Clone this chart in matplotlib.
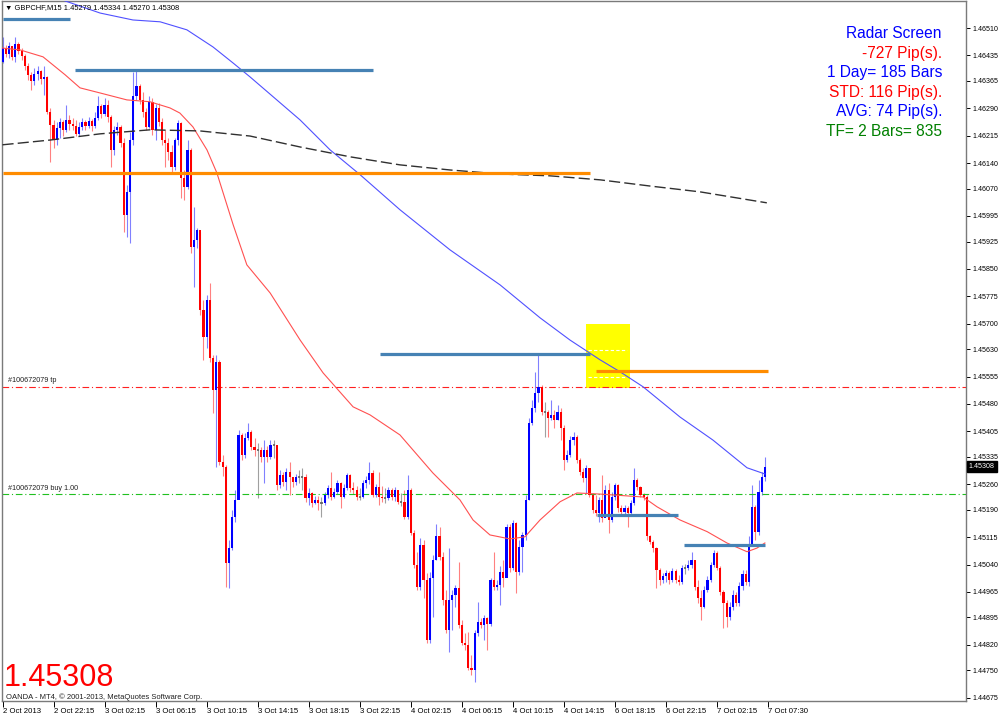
import matplotlib
matplotlib.use("Agg")
import matplotlib.pyplot as plt
import matplotlib.transforms as mtransforms
from matplotlib.patches import Rectangle
import numpy as np

# ---- price data (GBPCHF M15) ----
first_open = 1.46417
closes = [
    1.46455, 1.46439, 1.46461, 1.46431, 1.46466, 1.46447, 1.46434, 1.46406, 1.46382, 1.46365,
    1.46384, 1.46392, 1.46371, 1.46376, 1.46280, 1.46244, 1.46203, 1.46236, 1.46253, 1.46231,
    1.46258, 1.46247, 1.46242, 1.46220, 1.46239, 1.46253, 1.46242, 1.46255, 1.46242, 1.46264,
    1.46297, 1.46275, 1.46299, 1.46266, 1.46176, 1.46231, 1.46239, 1.46195, 1.45998, 1.46061,
    1.46203, 1.46324, 1.46351, 1.46313, 1.46280, 1.46239, 1.46308, 1.46231, 1.46291, 1.46253,
    1.46203, 1.46195, 1.46171, 1.46129, 1.46203, 1.46250, 1.46099, 1.46075, 1.46176, 1.45910,
    1.45929, 1.45957, 1.45738, 1.45664, 1.45765, 1.45606, 1.45518, 1.45595, 1.45321, 1.45308,
    1.45044, 1.45085, 1.45170, 1.45217, 1.45395, 1.45340, 1.45387, 1.45403, 1.45362, 1.45354,
    1.45354, 1.45335, 1.45354, 1.45335, 1.45368, 1.45368, 1.45258, 1.45286, 1.45266, 1.45294,
    1.45281, 1.45266, 1.45281, 1.45281, 1.45281, 1.45222, 1.45236, 1.45209, 1.45217, 1.45209,
    1.45209, 1.45231, 1.45250, 1.45225, 1.45239, 1.45264, 1.45225, 1.45250, 1.45286, 1.45250,
    1.45244, 1.45225, 1.45225, 1.45264, 1.45272, 1.45291, 1.45231, 1.45253, 1.45225, 1.45222,
    1.45222, 1.45244, 1.45225, 1.45244, 1.45212, 1.45212, 1.45170, 1.45244, 1.45127, 1.45039,
    1.44979, 1.45094, 1.44998, 1.44833, 1.45003, 1.45053, 1.45118, 1.45061, 1.44943, 1.44861,
    1.44943, 1.44957, 1.44976, 1.44875, 1.44825, 1.44820, 1.44757, 1.44751, 1.44853, 1.44883,
    1.44875, 1.44894, 1.44877, 1.44998, 1.44979, 1.44984, 1.45020, 1.45003, 1.45143, 1.45031,
    1.45154, 1.45020, 1.45088, 1.45121, 1.45217, 1.45428, 1.45469, 1.45510, 1.45527, 1.45458,
    1.45458, 1.45442, 1.45450, 1.45436, 1.45458, 1.45414, 1.45327, 1.45340, 1.45381, 1.45390,
    1.45327, 1.45294, 1.45277, 1.45305, 1.45231, 1.45190, 1.45181, 1.45217, 1.45168, 1.45244,
    1.45162, 1.45225, 1.45258, 1.45195, 1.45184, 1.45195, 1.45181, 1.45209, 1.45272, 1.45253,
    1.45231, 1.45225, 1.45118, 1.45102, 1.45085, 1.45025, 1.44998, 1.45009, 1.45017, 1.44998,
    1.45022, 1.44998, 1.44993, 1.45031, 1.45031, 1.45039, 1.45053, 1.44979, 1.44948, 1.44924,
    1.44970, 1.44998, 1.45039, 1.45072, 1.45031, 1.44965, 1.44935, 1.44896, 1.44924, 1.44957,
    1.44935, 1.44981, 1.45014, 1.44993, 1.45096, 1.45198, 1.45129, 1.45239, 1.45279, 1.45308,
]
highs = [
    1.46486, 1.46464, 1.46472, 1.46461, 1.46486, 1.46472, 1.46455, 1.46439, 1.46414, 1.46390,
    1.46401, 1.46406, 1.46395, 1.46406, 1.46379, 1.46291, 1.46258, 1.46253, 1.46264, 1.46258,
    1.46299, 1.46272, 1.46264, 1.46258, 1.46253, 1.46264, 1.46258, 1.46266, 1.46261, 1.46280,
    1.46324, 1.46302, 1.46318, 1.46313, 1.46272, 1.46242, 1.46253, 1.46244, 1.46209, 1.46080,
    1.46225, 1.46390, 1.46395, 1.46357, 1.46335, 1.46291, 1.46324, 1.46318, 1.46302, 1.46305,
    1.46264, 1.46231, 1.46209, 1.46190, 1.46209, 1.46258, 1.46253, 1.46121, 1.46203, 1.46181,
    1.46020, 1.45962, 1.45951, 1.45765, 1.45779, 1.45812, 1.45614, 1.45614, 1.45601, 1.45340,
    1.45313, 1.45107, 1.45190, 1.45244, 1.45409, 1.45401, 1.45401, 1.45428, 1.45409, 1.45387,
    1.45373, 1.45362, 1.45381, 1.45365, 1.45381, 1.45381, 1.45351, 1.45299, 1.45294, 1.45305,
    1.45321, 1.45277, 1.45289, 1.45299, 1.45305, 1.45289, 1.45250, 1.45239, 1.45228, 1.45228,
    1.45225, 1.45239, 1.45258, 1.45294, 1.45250, 1.45272, 1.45266, 1.45261, 1.45291, 1.45289,
    1.45266, 1.45255, 1.45250, 1.45272, 1.45283, 1.45321, 1.45299, 1.45261, 1.45294, 1.45255,
    1.45250, 1.45253, 1.45250, 1.45253, 1.45244, 1.45236, 1.45244, 1.45286, 1.45250, 1.45135,
    1.45074, 1.45113, 1.45107, 1.45017, 1.45020, 1.45066, 1.45151, 1.45143, 1.45074, 1.44970,
    1.45085, 1.44970, 1.44984, 1.45047, 1.44888, 1.44853, 1.44855, 1.44792, 1.44861, 1.44938,
    1.44894, 1.44902, 1.44896, 1.45003, 1.45074, 1.44998, 1.45036, 1.45053, 1.45151, 1.45151,
    1.45162, 1.45157, 1.45107, 1.45129, 1.45231, 1.45442, 1.45491, 1.45568, 1.45614, 1.45532,
    1.45486, 1.45464, 1.45491, 1.45464, 1.45477, 1.45469, 1.45422, 1.45354, 1.45392, 1.45403,
    1.45395, 1.45332, 1.45305, 1.45313, 1.45305, 1.45236, 1.45231, 1.45225, 1.45286, 1.45258,
    1.45264, 1.45239, 1.45264, 1.45261, 1.45203, 1.45203, 1.45201, 1.45217, 1.45305, 1.45277,
    1.45255, 1.45236, 1.45231, 1.45121, 1.45107, 1.45088, 1.45031, 1.45017, 1.45025, 1.45022,
    1.45031, 1.45028, 1.45011, 1.45039, 1.45042, 1.45053, 1.45074, 1.45053, 1.44998, 1.44970,
    1.44981, 1.45009, 1.45047, 1.45080, 1.45077, 1.45036, 1.44970, 1.44943, 1.44938, 1.44970,
    1.44965, 1.44993, 1.45025, 1.45025, 1.45118, 1.45258, 1.45203, 1.45272, 1.45294, 1.45334,
]
lows = [
    1.46414, 1.46431, 1.46428, 1.46423, 1.46417, 1.46439, 1.46423, 1.46395, 1.46368, 1.46340,
    1.46354, 1.46368, 1.46357, 1.46327, 1.46275, 1.46143, 1.46181, 1.46190, 1.46209, 1.46214,
    1.46225, 1.46231, 1.46231, 1.46214, 1.46214, 1.46231, 1.46231, 1.46236, 1.46228, 1.46236,
    1.46258, 1.46264, 1.46269, 1.46253, 1.46129, 1.46162, 1.46217, 1.46184, 1.45951, 1.45938,
    1.45921, 1.46190, 1.46313, 1.46302, 1.46266, 1.46231, 1.46236, 1.46217, 1.46203, 1.46242,
    1.46190, 1.46129, 1.46149, 1.46116, 1.46121, 1.46190, 1.46044, 1.46039, 1.46069, 1.45894,
    1.45801, 1.45907, 1.45724, 1.45601, 1.45633, 1.45595, 1.45455, 1.45308, 1.45313, 1.45283,
    1.44979, 1.44976, 1.45080, 1.45157, 1.45244, 1.45327, 1.45332, 1.45381, 1.45354, 1.45338,
    1.45222, 1.45321, 1.45264, 1.45321, 1.45329, 1.45332, 1.45244, 1.45250, 1.45255, 1.45244,
    1.45231, 1.45253, 1.45258, 1.45264, 1.45244, 1.45212, 1.45203, 1.45198, 1.45206, 1.45190,
    1.45170, 1.45203, 1.45222, 1.45217, 1.45222, 1.45233, 1.45195, 1.45222, 1.45244, 1.45239,
    1.45233, 1.45217, 1.45217, 1.45222, 1.45250, 1.45261, 1.45225, 1.45225, 1.45203, 1.45212,
    1.45209, 1.45217, 1.45217, 1.45214, 1.45206, 1.45201, 1.45165, 1.45165, 1.45121, 1.45031,
    1.44970, 1.44970, 1.44948, 1.44825, 1.44825, 1.44896, 1.45053, 1.45053, 1.44929, 1.44853,
    1.44801, 1.44861, 1.44924, 1.44866, 1.44820, 1.44806, 1.44751, 1.44738, 1.44718, 1.44844,
    1.44866, 1.44833, 1.44806, 1.44872, 1.44970, 1.44970, 1.44929, 1.44979, 1.45011, 1.45020,
    1.45025, 1.44962, 1.45011, 1.45020, 1.45107, 1.45217, 1.45422, 1.45458, 1.45486, 1.45450,
    1.45390, 1.45390, 1.45436, 1.45414, 1.45436, 1.45381, 1.45299, 1.45321, 1.45335, 1.45368,
    1.45318, 1.45286, 1.45266, 1.45236, 1.45225, 1.45181, 1.45173, 1.45157, 1.45157, 1.45203,
    1.45127, 1.45157, 1.45217, 1.45184, 1.45179, 1.45176, 1.45143, 1.45176, 1.45203, 1.45244,
    1.45225, 1.45217, 1.45107, 1.45096, 1.45074, 1.44976, 1.44984, 1.44990, 1.44993, 1.44987,
    1.44993, 1.44990, 1.44984, 1.44987, 1.45014, 1.45025, 1.45031, 1.44970, 1.44935, 1.44888,
    1.44921, 1.44965, 1.44993, 1.45033, 1.45025, 1.44957, 1.44866, 1.44869, 1.44888, 1.44916,
    1.44927, 1.44927, 1.44970, 1.44984, 1.44981, 1.45094, 1.45107, 1.45121, 1.45231, 1.45270,
]

# moving averages, sampled (bar index, price)
red_ma_bar = [0, 5.5, 12.7, 19.6, 24.3, 30.6, 39.0, 46.2, 52.5, 55.6, 59.7, 64.1, 67.2, 72.3,
              76.6, 83.9, 93.3, 100.5, 109.9, 115.2, 124.6, 134.9, 143.4, 147.5, 152.8, 159.1,
              163.8, 168.5, 174.8, 180.1, 187.3, 200.8, 205.2, 212.4, 220.9, 227.1, 233.4, 236.5, 239]
red_ma = [1.46455, 1.46450, 1.46431, 1.46382, 1.46346, 1.46332, 1.46313, 1.46308, 1.46291, 1.46277,
          1.46239, 1.46176, 1.46113, 1.45971, 1.45861, 1.45784, 1.45655, 1.45565, 1.45472, 1.45450,
          1.45395, 1.45291, 1.45217, 1.45162, 1.45121, 1.45110, 1.45116, 1.45162, 1.45212, 1.45236,
          1.45233, 1.45225, 1.45198, 1.45162, 1.45130, 1.45099, 1.45075, 1.45085, 1.45099]
blue_ma_bar = [11.8, 18.7, 30.6, 40.9, 49.4, 57.8, 66.0, 72.3, 77.6, 93.3, 102.7, 112.1, 124.6,
               140.3, 156.0, 168.5, 177.9, 187.3, 193.6, 200.8, 212.4, 222.7, 233.4, 239]
blue_ma = [1.46609, 1.46587, 1.46551, 1.46532, 1.46527, 1.46505, 1.46458, 1.46414, 1.46376, 1.46258,
           1.46176, 1.46108, 1.46012, 1.45902, 1.45806, 1.45716, 1.45655, 1.45601, 1.45568, 1.45527,
           1.45444, 1.45381, 1.45305, 1.45288]
slow_ma_bar = [0, 14.9, 30.6, 46.2, 61.9, 77.6, 93.3, 109.0, 124.6, 140.3, 156.0, 171.6, 187.3,
               203.0, 218.7, 239.6]
slow_ma = [1.46190, 1.46203, 1.46220, 1.46231, 1.46228, 1.46214, 1.46184, 1.46157, 1.46135, 1.46121,
           1.46110, 1.46105, 1.46094, 1.46077, 1.46061, 1.46031]

# chart objects: level, first bar, last bar
blue_levels = [1.46535, 1.46395, 1.45617, 1.45176, 1.45094]
blue_from = [0, 22.7, 118.3, 186.4, 213.6]
blue_to = [21.2, 116.1, 184.2, 211.8, 239]
orange_levels = [1.46113, 1.45570]
orange_from = [0, 186]
orange_to = [184.2, 240]
box_prices = [1.45524, 1.45699]
box_bars = [182.9, 196.7]
box_inner = [1.45628, 1.45554]
tp_price = 1.45527
buy_price = 1.45233

x_labels = ["2 Oct 2013", "2 Oct 22:15", "3 Oct 02:15", "3 Oct 06:15", "3 Oct 10:15",
            "3 Oct 14:15", "3 Oct 18:15", "3 Oct 22:15", "4 Oct 02:15", "4 Oct 06:15",
            "4 Oct 10:15", "4 Oct 14:15", "6 Oct 18:15", "6 Oct 22:15", "7 Oct 02:15", "7 Oct 07:30"]
y_labels = ["1.46510", "1.46435", "1.46365", "1.46290", "1.46215", "1.46140", "1.46070",
            "1.45995", "1.45925", "1.45850", "1.45775", "1.45700", "1.45630", "1.45555",
            "1.45480", "1.45405", "1.45335", "1.45260", "1.45190", "1.45115", "1.45040",
            "1.44965", "1.44895", "1.44820", "1.44750", "1.44675"]

radar_lines = ["Radar Screen", "-727 Pip(s).", "1 Day= 185 Bars", "STD: 116 Pip(s).",
               "AVG: 74 Pip(s).", "TF= 2 Bars= 835"]
radar_colors = ["#0000ff", "#ff0000", "#0000ff", "#ff0000", "#0000ff", "#008000"]

plt.rcParams['font.family'] = ['Liberation Sans', 'DejaVu Sans']

W, H = 1000, 716


def fx(x):
    return x / W


def fy(y):
    return 1 - y / H


fig = plt.figure(figsize=(10, 7.16), dpi=100)
fig.patch.set_facecolor('white')
ax = fig.add_axes([fx(2), fy(701), (966 - 2) / W, 700 / H])
ax.set_xlim(-0.157, 302.04)
ax.set_ylim(1.44666, 1.46584)

# candles
c = np.array(closes)
h = np.array(highs)
l = np.array(lows)
o = np.array([first_open] + closes[:-1])
idx = np.arange(len(c))
up = c > o
dn = c < o
body_col = np.where(up, '#0000ff', np.where(dn, '#ff0000', '#808080'))
wick_col = np.where(up, '#8080ff', np.where(dn, '#ff8080', '#a0a0a0'))
ax.vlines(idx, l, h, colors=wick_col, linewidth=0.8, zorder=2)
ax.bar(idx, c - o, bottom=o, width=0.68, color=body_col, linewidth=0, zorder=3)
flat = ~(up | dn)
ax.hlines(c[flat], idx[flat] - 0.34, idx[flat] + 0.34, colors='#606060', lw=1.2, zorder=3)

# yellow box
ax.add_patch(Rectangle((box_bars[0], box_prices[0]), box_bars[1] - box_bars[0],
                       box_prices[1] - box_prices[0], facecolor='#ffff00',
                       edgecolor='none', zorder=1))
ax.hlines(box_inner, box_bars[0] + 0.8, box_bars[1] - 0.8, colors='white',
          lw=0.8, linestyles=(0, (3, 2)), zorder=1.5)

# moving averages
ax.plot(red_ma_bar, red_ma, color='#ff5050', lw=0.8, zorder=4)
ax.plot(blue_ma_bar, blue_ma, color='#5050ff', lw=0.8, zorder=4)
ax.plot(slow_ma_bar, slow_ma, color='#303030', lw=1.0, ls=(0, (8, 3)), zorder=4)

# order lines
ax.axhline(tp_price, color='#ff2020', lw=0.8, ls=(0, (6, 2.5, 1, 2.5)), zorder=2.5)
ax.axhline(buy_price, color='#20c020', lw=0.8, ls=(0, (6, 2.5, 1, 2.5)), zorder=2.5)

# trend lines
ax.hlines(blue_levels, blue_from, blue_to, colors='#4682b4', lw=2.3, zorder=5)
ax.hlines(orange_levels, orange_from, orange_to, colors='#ff8c00', lw=2.3, zorder=5)

# axes styling
for sp in ax.spines.values():
    sp.set_color('#7a7a7a')
    sp.set_linewidth(1.0)
ax.yaxis.tick_right()
ax.set_yticks([float(s) for s in y_labels])
ax.set_yticklabels(y_labels)
ax.set_xticks(np.arange(len(x_labels)) * 16)
ax.set_xticklabels(x_labels)
for lbl in ax.get_xticklabels():
    lbl.set_horizontalalignment('left')
ax.tick_params(axis='y', direction='out', length=3, width=0.7, pad=1.5, labelsize=5.1,
               colors='black')
ax.tick_params(axis='x', direction='out', length=4, width=0.7, pad=1, labelsize=5.6,
               colors='black')

# current price marker on the axis
trans = mtransforms.blended_transform_factory(ax.transAxes, ax.transData)
ax.text(1.003, c[-1], f"{c[-1]:.5f}", transform=trans, color='white', fontsize=5.1,
        va='center', ha='left', zorder=10, clip_on=False,
        bbox=dict(boxstyle='square,pad=0.25', fc='black', ec='black'))

# texts
fig.text(fx(5), fy(8), f"\u25bc GBPCHF,M15 {o[-1]:.5f} {h[-1]:.5f} {l[-1]:.5f} {c[-1]:.5f}",
         fontsize=5.4, va='center', ha='left', color='black')
fig.text(fx(8), fy(381), "#100672079 tp", fontsize=5.2, va='center', ha='left', color='#202020')
fig.text(fx(8), fy(489), "#100672079 buy 1.00", fontsize=5.2, va='center', ha='left',
         color='#202020')
fig.text(fx(4), fy(692.5), f"{c[-1]:.5f}", fontsize=22, color='#ff0000', va='bottom', ha='left')
fig.text(fx(6), fy(697), "OANDA - MT4, \u00a9 2001-2013, MetaQuotes Software Corp.",
         fontsize=5.5, va='center', ha='left', color='#202020')

for k, (txt, col) in enumerate(zip(radar_lines, radar_colors)):
    fig.text(fx(942), fy(38 + 19.6 * k), txt, fontsize=11.2, color=col, ha='right',
             va='baseline')

fig.savefig('out.png', dpi=100, facecolor='white')
